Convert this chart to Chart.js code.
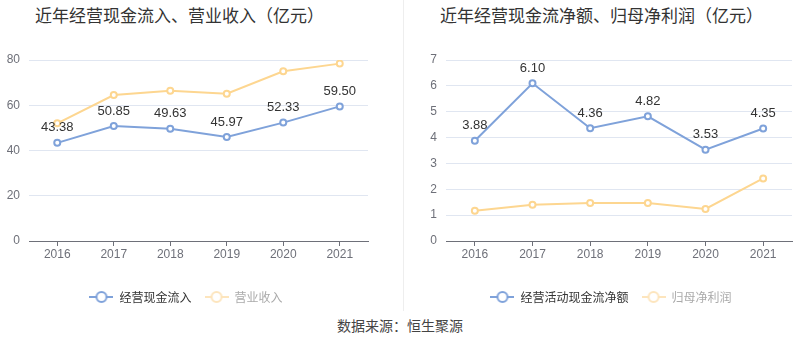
<!DOCTYPE html>
<html>
<head>
<meta charset="utf-8">
<script src="https://cdn.jsdelivr.net/npm/chart.js@4.4.1/dist/chart.umd.min.js"></script>
<style>
  html, body { margin: 0; padding: 0; background: #fff; }
  body { width: 800px; height: 358px; position: relative; overflow: hidden; font-family: "Noto Sans CJK SC", "Noto Sans", sans-serif; }
  .panel { position: absolute; top: 0; height: 313px; }
  #p1 { left: 0; width: 400px; }
  #p2 { left: 404px; width: 396px; }
  .title { position: absolute; top: 2px; font-size: 17px; color: #333; white-space: nowrap; }
  #t1 { left: 35px; }
  #t2 { left: 440px; }
  #divider { position: absolute; left: 403px; top: 0; width: 1px; height: 311px; background: #eeeeee; }
  #source { position: absolute; left: 0; width: 800px; top: 315px; text-align: center; font-size: 14px; color: #444; }
</style>
</head>
<body>
<div class="title" id="t1">近年经营现金流入、营业收入（亿元）</div>
<div class="title" id="t2">近年经营现金流净额、归母净利润（亿元）</div>
<div id="divider"></div>
<div class="panel" id="p1"><canvas id="c1" width="400" height="313"></canvas></div>
<div class="panel" id="p2"><canvas id="c2" width="396" height="313"></canvas></div>
<div id="source">数据来源：恒生聚源</div>
<script>
// ---- data ----
const years = ['2016', '2017', '2018', '2019', '2020', '2021'];
const cashInflow = [43.38, 50.85, 49.63, 45.97, 52.33, 59.50];
const revenue = [52.0, 64.5, 66.4, 65.1, 75.0, 78.4];
const netCashFlow = [3.88, 6.10, 4.36, 4.82, 3.53, 4.35];
const netProfit = [1.17, 1.40, 1.47, 1.47, 1.24, 2.42];
const leftTicks = [0, 20, 40, 60, 80];
const rightTicks = [0, 1, 2, 3, 4, 5, 6, 7];
const leftNames = ['经营现金流入', '营业收入'];
const rightNames = ['经营活动现金流净额', '归母净利润'];

const BLUE = '#7fa2da';
const YELLOW = '#fdd690';
const YELLOW_LEG = '#fde5bd';

function legendIcon(color) {
  const c = document.createElement('canvas');
  c.width = 24; c.height = 14;
  const g = c.getContext('2d');
  g.strokeStyle = color; g.lineWidth = 2;
  g.beginPath(); g.moveTo(0, 7); g.lineTo(24, 7); g.stroke();
  g.beginPath(); g.arc(12, 7, 5, 0, Math.PI * 2);
  g.fillStyle = '#fff'; g.fill(); g.stroke();
  return c;
}

const valueLabels = {
  id: 'valueLabels',
  afterDatasetsDraw(chart) {
    const ctx = chart.ctx;
    const meta = chart.getDatasetMeta(0);
    const ds = chart.data.datasets[0];
    ctx.save();
    ctx.font = '13px "Liberation Sans", Arial, sans-serif';
    ctx.fillStyle = '#333';
    ctx.textAlign = 'center';
    ctx.textBaseline = 'middle';
    meta.data.forEach((pt, i) => {
      ctx.fillText(ds.data[i].toFixed(2), pt.x, pt.y - 15);
    });
    ctx.restore();
  }
};

function legendShift(dx) {
  return {
    id: 'legendShift',
    afterUpdate(chart) {
      if (chart.legend) { chart.legend.left += dx; chart.legend.right += dx; }
    }
  };
}

function makeChart(id, names, d1, d2, ticks, max, padL, yWidth, padR, legendDx) {
  return new Chart(document.getElementById(id), {
    type: 'line',
    data: {
      labels: years,
      datasets: [
        { label: names[0], data: d1, borderColor: BLUE, backgroundColor: '#fff', borderWidth: 2,
          pointRadius: 3, pointBorderWidth: 2, pointBackgroundColor: '#fff', pointBorderColor: BLUE, tension: 0 },
        { label: names[1], data: d2, borderColor: YELLOW, backgroundColor: '#fff', borderWidth: 2,
          pointRadius: 3, pointBorderWidth: 2, pointBackgroundColor: '#fff', pointBorderColor: YELLOW, tension: 0 }
      ]
    },
    options: {
      responsive: false,
      animation: false,
      layout: { padding: { top: 60, left: padL, right: padR, bottom: 0 } },
      plugins: {
        title: { display: false },
        tooltip: { enabled: false },
        legend: {
          position: 'bottom',
          labels: {
            usePointStyle: true,
            pointStyleWidth: 24,
            boxHeight: 14,
            padding: 13,
            font: { size: 12, family: '"Noto Sans CJK SC", sans-serif' },
            generateLabels(chart) {
              return [
                { text: names[0], pointStyle: legendIcon(BLUE), fontColor: '#333', datasetIndex: 0, hidden: false, lineWidth: 0, strokeStyle: 'transparent', fillStyle: 'transparent' },
                { text: names[1], pointStyle: legendIcon(YELLOW_LEG), fontColor: '#aaa', datasetIndex: 1, hidden: false, lineWidth: 0, strokeStyle: 'transparent', fillStyle: 'transparent' }
              ];
            }
          }
        }
      },
      scales: {
        x: {
          offset: true,
          afterFit(scale) { scale.height = 37; },
          grid: { display: true, drawOnChartArea: false, drawTicks: true, tickLength: 5, color: '#6e7079', offset: false },
          border: { display: true, color: '#6e7079' },
          ticks: { color: '#6e7079', font: { size: 12, family: '"Liberation Sans", Arial, sans-serif' }, padding: 1 }
        },
        y: {
          min: 0, max: max,
          afterFit(scale) { scale.width = yWidth; },
          afterBuildTicks(scale) { scale.ticks = ticks.map(v => ({ value: v })); },
          grid: { color: '#e0e6f1', drawTicks: false },
          border: { display: false },
          ticks: { color: '#6e7079', font: { size: 12, family: '"Liberation Sans", Arial, sans-serif' }, padding: 9 }
        }
      }
    },
    plugins: [valueLabels, legendShift(legendDx)]
  });
}

makeChart('c1', leftNames, cashInflow, revenue, leftTicks, 80, 0, 29, 32, 2);
makeChart('c2', rightNames, netCashFlow, netProfit, rightTicks, 7, 0, 42, 8, 13);
</script>
</body>
</html>
